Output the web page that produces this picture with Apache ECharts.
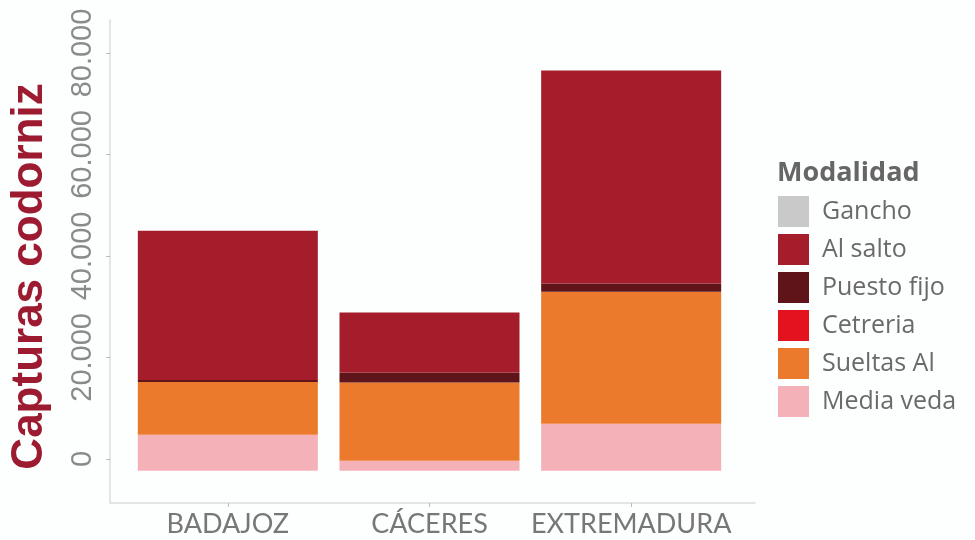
<!DOCTYPE html>
<html>
<head>
<meta charset="utf-8">
<script src="https://cdn.jsdelivr.net/npm/echarts@6/dist/echarts.min.js"></script>
<style>
html,body{margin:0;padding:0;background:#fdfefe;}
#chart{width:975px;height:540px;}
</style>
</head>
<body>
<div id="chart"></div>
<script>
// ---- data ----
const categories = ['BADAJOZ', 'CÁCERES', 'EXTREMADURA'];
const legendNames = ['Gancho', 'Al salto', 'Puesto fijo', 'Cetreria', 'Sueltas Al', 'Media veda'];
const gancho     = [0, 0, 0];
const alSalto    = [29400, 11800, 42000];
const puestoFijo = [400, 2000, 1600];
const cetreria   = [0, 0, 0];
const sueltasAl  = [10400, 15400, 26000];
const mediaVeda  = [7100, 2000, 9300];
const yTicks     = [0, 20000, 40000, 60000, 80000];

// ---- layout / style ----
const axisMin = -8700, axisMax = 86500;   // visible axis range
const barShift = 2360;                    // bars in the reference sit slightly below the 0 tick
const colors = {
  'Gancho': '#c9c9c9',
  'Al salto': '#a51c2a',
  'Puesto fijo': '#5e1418',
  'Cetreria': '#e4111e',
  'Sueltas Al': '#ec7a2c',
  'Media veda': '#f4b2b8'
};
const fmt = v => String(v).replace(/\B(?=(\d{3})+(?!\d))/g, '.');
const font = 'Lato';
const legendFont = 'Open Sans';

const stackOrder = [
  ['Media veda', mediaVeda],
  ['Sueltas Al', sueltasAl],
  ['Cetreria', cetreria],
  ['Puesto fijo', puestoFijo],
  ['Al salto', alSalto],
  ['Gancho', gancho]
];

const chart = echarts.init(document.getElementById('chart'), null, {renderer: 'canvas'});
chart.setOption({
  backgroundColor: '#fdfefe',
  animation: false,
  title: {
    text: 'Modalidad', left: 772, top: 155,
    textStyle: {fontFamily: legendFont, fontSize: 27, fontWeight: 'bold', color: '#666'}
  },
  legend: {
    data: legendNames, orient: 'vertical', left: 773, top: 191,
    icon: 'rect', itemWidth: 31, itemHeight: 31, itemGap: 7,
    textStyle: {fontFamily: legendFont, fontSize: 25, color: '#6a6a6a', padding: [0, 0, 0, 8]}
  },
  grid: [
    {left: 110, right: 220, top: 20, bottom: 37, outerBoundsMode: 'none', containLabel: false},
    {left: 127, right: 243, top: 20, bottom: 37, outerBoundsMode: 'none', containLabel: false}
  ],
  xAxis: [
    {type: 'value', gridIndex: 0, min: 0, max: 1,
     axisLine: {show: true, onZero: false, lineStyle: {color: '#dcdcdc', width: 1.5}},
     axisTick: {show: false}, axisLabel: {show: false}, splitLine: {show: false}},
    {type: 'category', gridIndex: 1, data: categories,
     axisLine: {show: false, onZero: false},
     axisTick: {show: true, alignWithLabel: true, length: 4, lineStyle: {color: '#bbb'}},
     axisLabel: {interval: 0, fontFamily: font, fontSize: 27, color: '#777', margin: 8}}
  ],
  yAxis: [
    {type: 'value', gridIndex: 0, min: axisMin, max: axisMax,
     name: 'Capturas codorniz', nameLocation: 'middle', nameGap: 58,
     nameTextStyle: {fontFamily: 'Liberation Sans', fontSize: 44, fontWeight: 'bold', color: '#9c1b30', padding: [0, 30, 0, 0]},
     axisLine: {show: true, onZero: false, lineStyle: {color: '#dcdcdc', width: 1.5}},
     axisTick: {show: true, length: 4, customValues: yTicks, lineStyle: {color: '#bbb'}},
     axisLabel: {customValues: yTicks, rotate: 90, formatter: fmt, margin: 13,
                 fontFamily: 'Liberation Sans', fontSize: 29, color: '#8a8a8a'},
     splitLine: {show: false}},
    {type: 'value', gridIndex: 1, min: axisMin + barShift, max: axisMax + barShift, show: false,
     splitLine: {show: false}}
  ],
  series: stackOrder.map(([name, vals]) => ({
    name, type: 'bar', stack: 'total', xAxisIndex: 1, yAxisIndex: 1,
    barWidth: 180, data: vals,
    itemStyle: {color: colors[name]}
  }))
});
</script>
</body>
</html>
